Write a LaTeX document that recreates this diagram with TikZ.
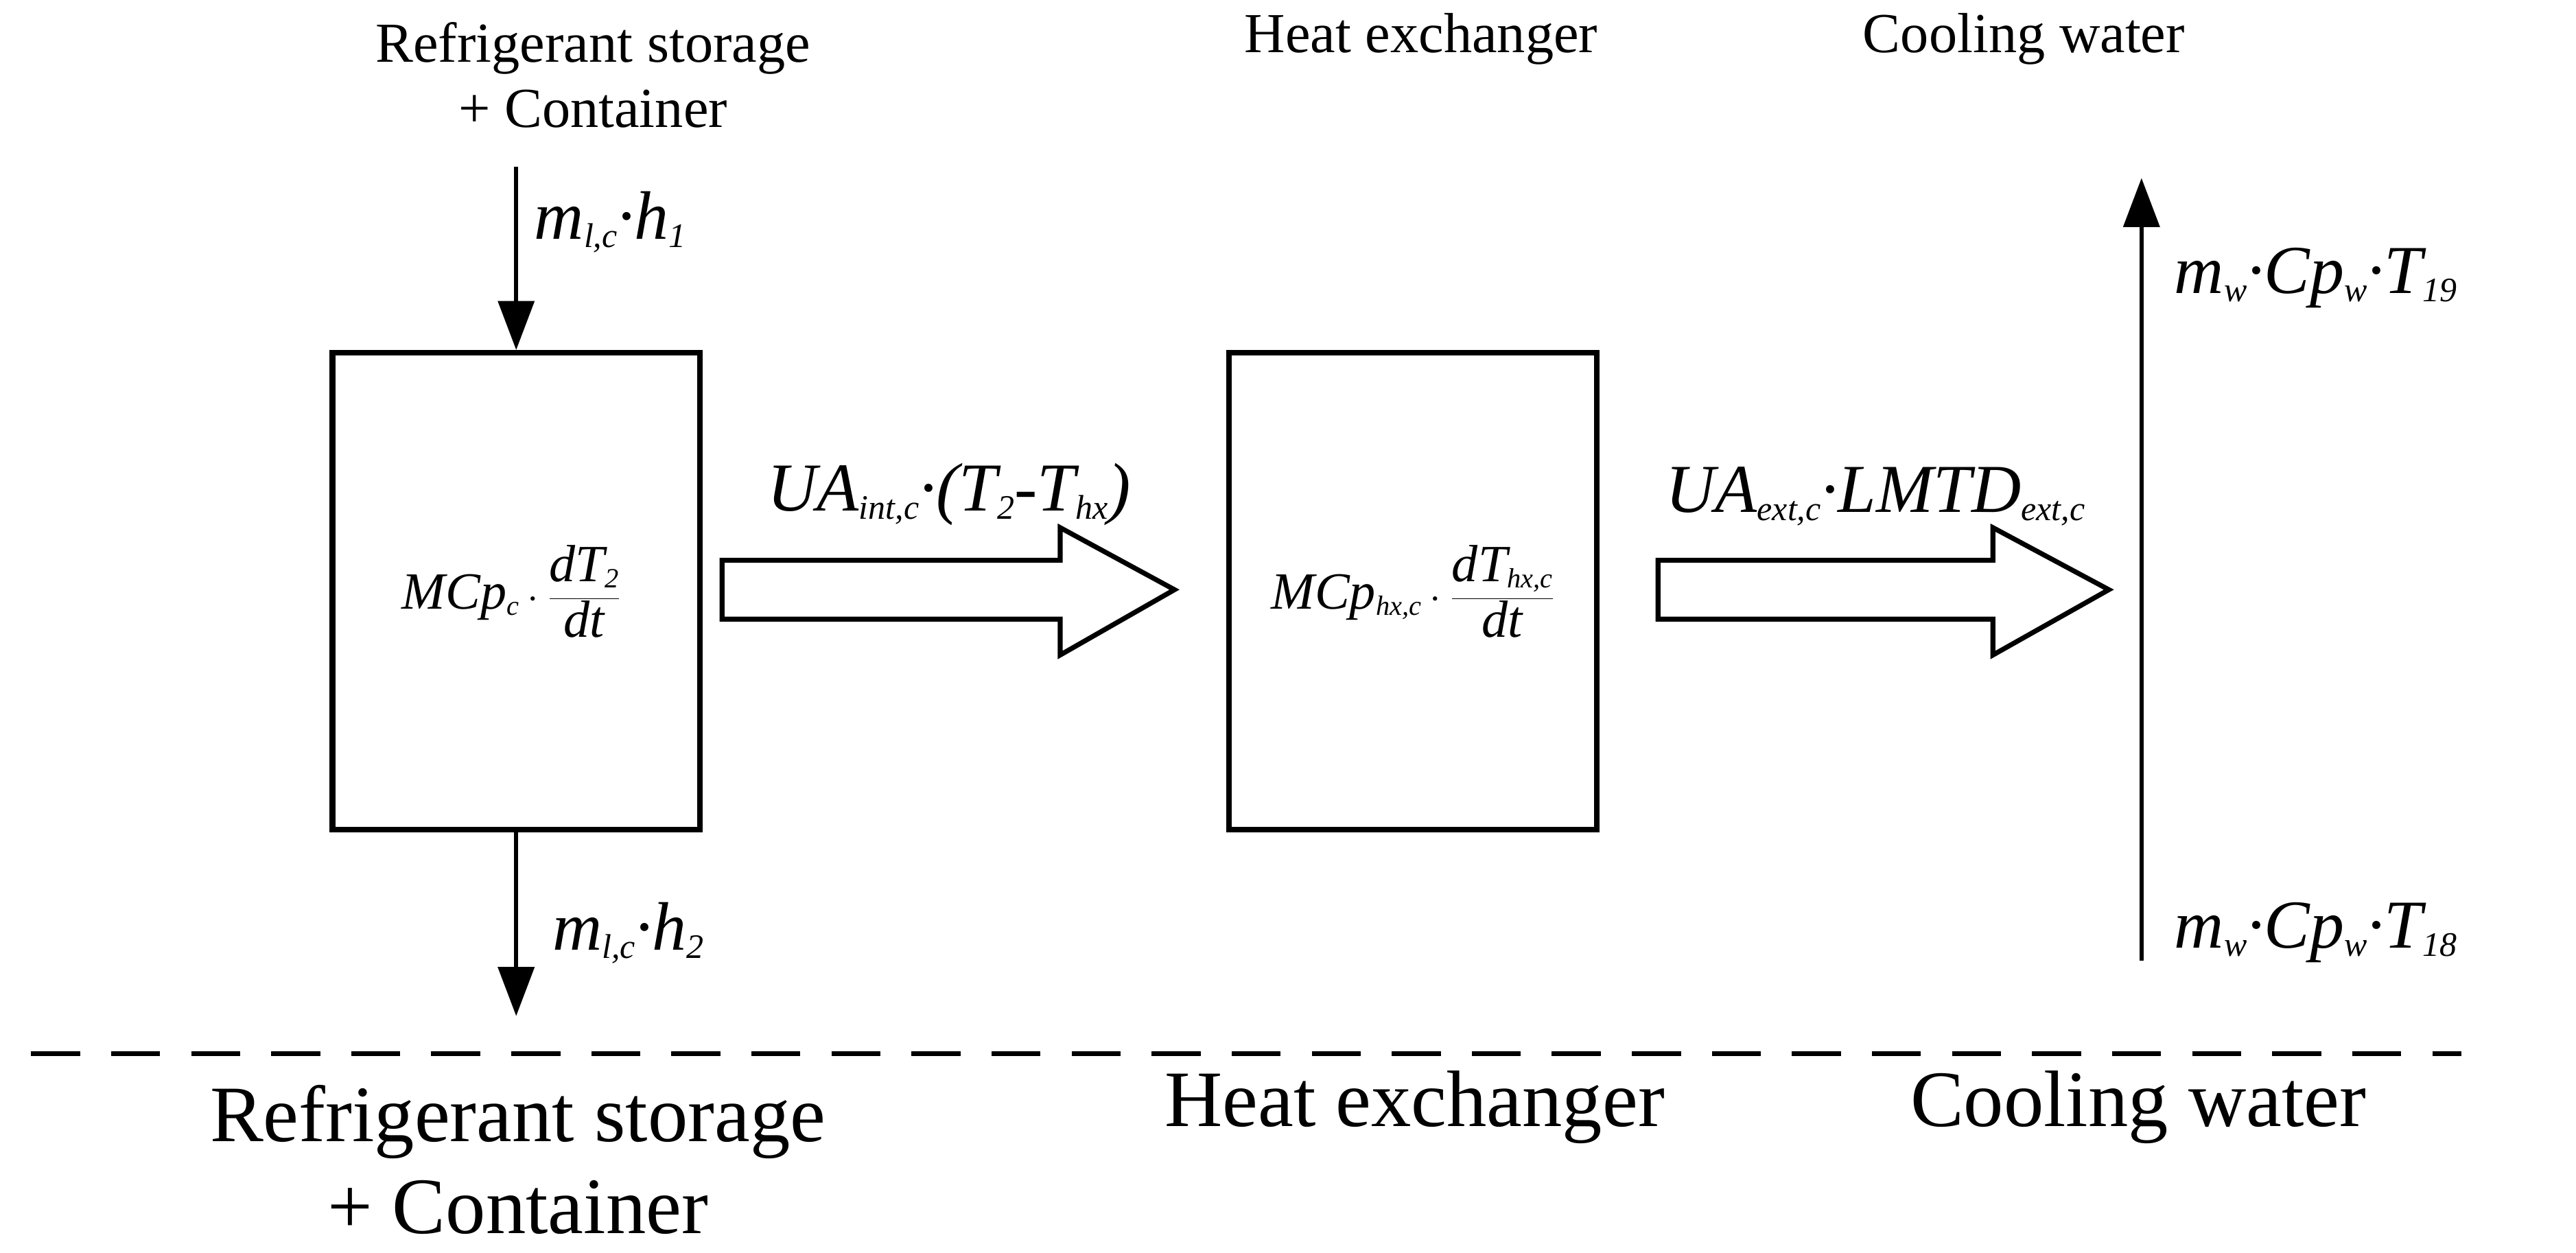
\documentclass[tikz,border=0pt]{standalone}
\usepackage{fontspec}
\setmainfont{LiberationSerif}[Extension=.ttf,UprightFont=*-Regular,ItalicFont=*-Italic,BoldFont=*-Bold,BoldItalicFont=*-BoldItalic]
\usetikzlibrary{arrows.meta}
\newcommand{\sbs}[1]{\raisebox{-5pt}{\fontsize{21}{21}\selectfont\textit{#1}}}
\newcommand{\ssb}[1]{\raisebox{-4pt}{\fontsize{17}{17}\selectfont\textit{#1}}}
\newcommand{\cdt}{\textperiodcentered}
\begin{document}
\begin{tikzpicture}[x=1pt,y=-1pt,
  box/.style={draw,line width=3.5pt,minimum width=225pt,minimum height=292pt,inner sep=0pt},
  small/.style={font=\fontsize{34.6}{40}\selectfont,align=center},
  big/.style={font=\fontsize{49}{56}\selectfont,align=center},
  lab/.style={font=\fontsize{42}{48}\selectfont\itshape,inner sep=0pt},
  form/.style={font=\fontsize{32}{36}\selectfont\itshape},
  flow/.style={line width=2.5pt,-{Triangle[length=30pt,width=22pt]}},
  hollow/.style={draw,line width=3pt,fill=white,line join=miter}]
\useasboundingbox (0,0) rectangle (1577,767);
\node[small] (t1) at (363,46) {Refrigerant storage\\+ Container};
\node[small] (t2) at (870,24) {Heat exchanger};
\node[small] (t3) at (1239,24) {Cooling water};
\node[box] (b1) at (316,362) {};
\node[box] (b2) at (865,362) {};
\node[form] (f1) at (313,362) {MCp\ssb{c}\,$\cdot$\,$\displaystyle\frac{\mbox{\itshape dT\ssb{2}}}{\mbox{\itshape dt}}$};
\node[form] (f2) at (865,362) {MCp\ssb{hx,c}\,$\cdot$\,$\displaystyle\frac{\mbox{\itshape dT\ssb{hx,c}}}{\mbox{\itshape dt}}$};
\coordinate (a1s) at (316,102);
\draw[flow] (a1s) -- (b1.north);
\coordinate (a2e) at (316,622);
\draw[flow] (b1.south) -- (a2e);
\node[lab,anchor=west] (l1) at (327,136) {m\sbs{l,c}\cdt h\sbs{1}};
\node[lab,anchor=west] (l2) at (338,571) {m\sbs{l,c}\cdt h\sbs{2}};
% hollow arrows
\draw[hollow] (442,343) -- (649,343) -- (649,323) -- (719,361) -- (649,401) -- (649,379) -- (442,379) -- cycle;
\draw[hollow] (1015,343) -- (1220,343) -- (1220,323) -- (1291,361) -- (1220,401) -- (1220,379) -- (1015,379) -- cycle;
\node[lab,anchor=south] (u1) at (581,322) {UA\sbs{int,c}\cdt(T\sbs{2}-T\sbs{hx})};
\node[lab,anchor=south] (u2) at (1148,322) {UA\sbs{ext,c}\cdt LMTD\sbs{ext,c}};
\coordinate (wb) at (1311,588);
\coordinate (wt) at (1311,109);
\draw[flow] (wb) -- (wt);
\node[lab,anchor=west] (w1) at (1331,170) {m\sbs{w}\cdt Cp\sbs{w}\cdt T\sbs{19}};
\node[lab,anchor=west] (w2) at (1331,571) {m\sbs{w}\cdt Cp\sbs{w}\cdt T\sbs{18}};
\coordinate (d1) at (19,645);
\coordinate (d2) at (1507,645);
\draw[line width=3pt,dash pattern=on 30pt off 19pt] (d1) -- (d2);
\node[big] (g1) at (317,710) {Refrigerant storage\\+ Container};
\node[big] (g2) at (866,678) {Heat exchanger};
\node[big] (g3) at (1309,678) {Cooling water};
\end{tikzpicture}
\end{document}
